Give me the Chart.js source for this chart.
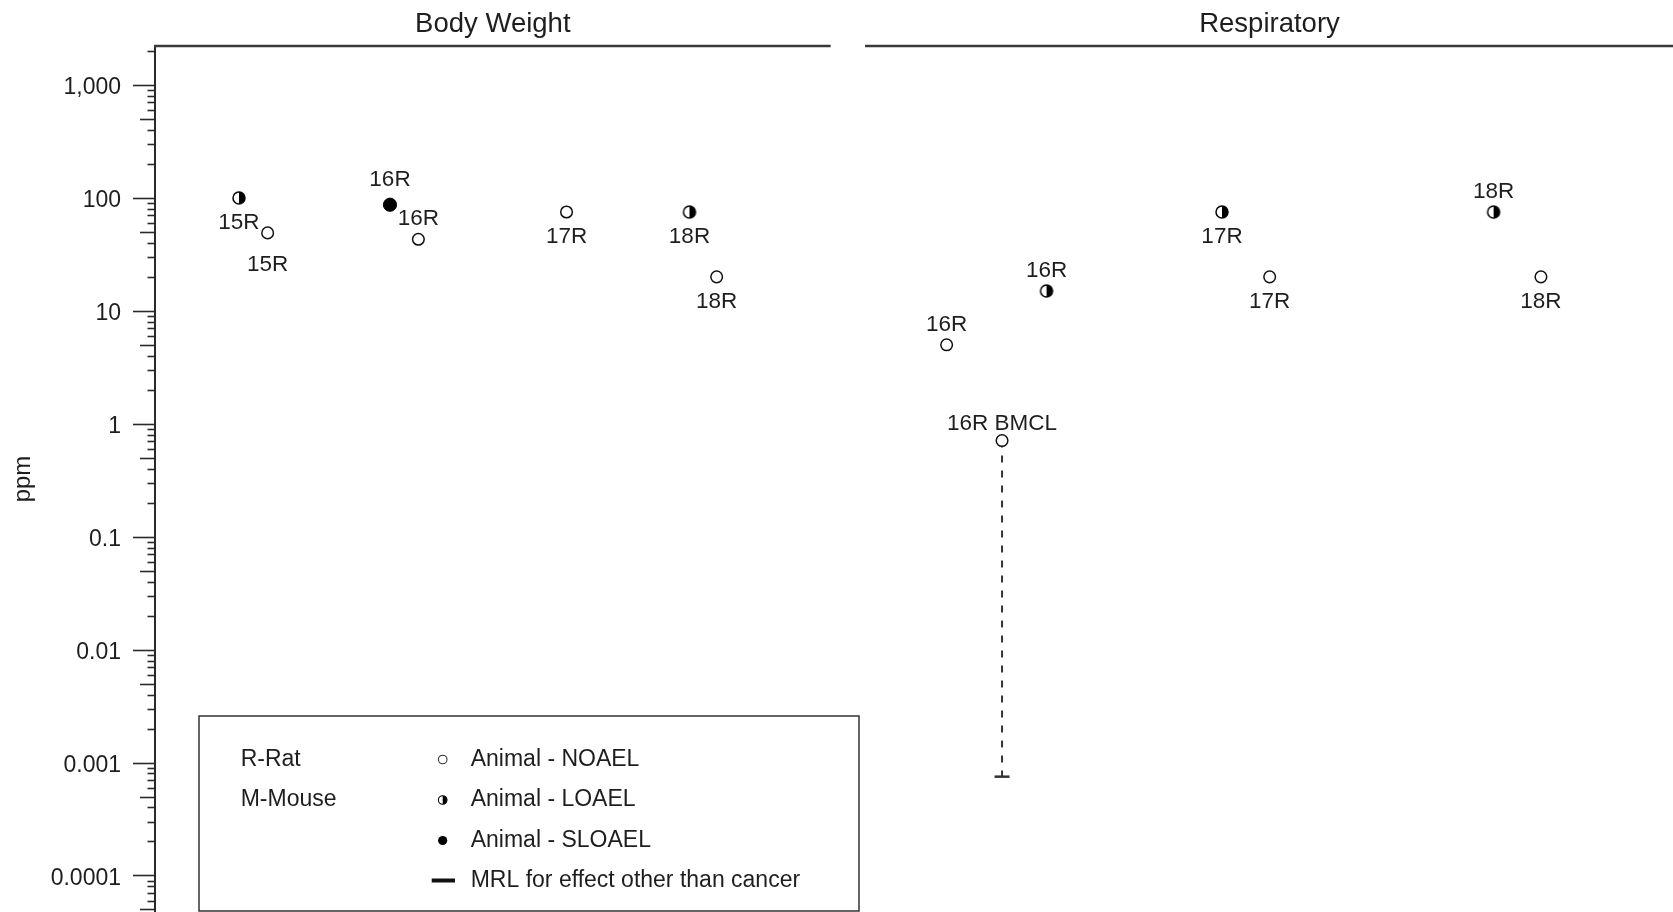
<!DOCTYPE html>
<html>
<head>
<meta charset="utf-8">
<script src="https://cdn.jsdelivr.net/npm/chart.js@4.4.1/dist/chart.umd.min.js"></script>
<style>
  html, body { margin: 0; padding: 0; background: #fff; }
  #wrap { width: 1673px; height: 912px; }
</style>
</head>
<body>
<div id="wrap"><canvas id="chart" width="1673" height="912"></canvas></div>
<script>
// Endpoint panels along the horizontal (plot-column) axis
const panelTitles = ['Body Weight', 'Respiratory'];
const panelStart = [0, 46.84];
const panelEnd = [44.51, 100];

// One entry per plotted study result
const pointLabels  = ['15R', '15R', '16R', '16R', '17R', '18R', '18R', '16R', '16R BMCL', '16R', '17R', '17R', '18R', '18R'];
const effectLevels = ['LOAEL', 'NOAEL', 'SLOAEL', 'NOAEL', 'NOAEL', 'LOAEL', 'NOAEL', 'NOAEL', 'BMCL', 'LOAEL', 'LOAEL', 'NOAEL', 'LOAEL', 'NOAEL'];
const doseValues   = [100, 49, 87, 43, 75, 75, 20, 5, 0.71, 15, 75, 20, 75, 20];
const plotColumns  = [5.53, 7.42, 15.48, 17.35, 27.11, 35.21, 37.0, 52.15, 55.8, 58.73, 70.29, 73.43, 88.18, 91.3];
const labelSides   = ['below', 'below', 'above', 'above', 'below', 'below', 'below', 'above', 'above', 'above', 'below', 'below', 'above', 'below'];

// Minimal risk level derived from the BMCL
const mrlValue = 0.00075;
const mrlColumn = 55.8;

// Labelled decades on the ppm axis
const decadeTicks  = [0.0001, 0.001, 0.01, 0.1, 1, 10, 100, 1000];
const decadeLabels = ['0.0001', '0.001', '0.01', '0.1', '1', '10', '100', '1,000'];

// Label spacing from each marker (px), kept apart from the data
const LABEL_GAP = { above: 20, below: 24.5 };
const labelGapOverride = { 1: 31.5, 2: 25.3, 8: 16.6 };

const FONT = '"Liberation Sans", Arial, Helvetica, sans-serif';
const INK = '#1e1e1e';
const AXIS_MIN = 4.75e-5;
const AXIS_MAX = 2213;

// 1..9 x 10^k tick values covering the axis range
function logTickValues() {
  const out = [];
  const k0 = Math.floor(Math.log10(AXIS_MIN));
  const k1 = Math.floor(Math.log10(AXIS_MAX));
  for (let k = k0; k <= k1; k++) {
    for (let m = 1; m <= 9; m++) {
      const v = +(m * Math.pow(10, k)).toPrecision(6);
      if (v >= AXIS_MIN && v <= AXIS_MAX) out.push({ value: v, mantissa: m });
    }
  }
  return out;
}

function drawHalfCircle(g, cx, cy, r, lw) {
  g.beginPath(); g.arc(cx, cy, r, 0, Math.PI * 2); g.fillStyle = '#fff'; g.fill();
  g.beginPath(); g.arc(cx, cy, r, -Math.PI / 2, Math.PI / 2); g.closePath(); g.fillStyle = '#000'; g.fill();
  g.beginPath(); g.arc(cx, cy, r, 0, Math.PI * 2); g.lineWidth = lw; g.strokeStyle = '#000'; g.stroke();
}

function makeHalfMarker(r, lw) {
  const size = Math.ceil(2 * r + 2 * lw) + 1;
  const cv = document.createElement('canvas');
  cv.width = size; cv.height = size;
  drawHalfCircle(cv.getContext('2d'), size / 2, size / 2, r, lw);
  return cv;
}

function pointsFor(levels) {
  return doseValues
    .map((v, i) => ({ x: plotColumns[i], y: v, idx: i, level: effectLevels[i] }))
    .filter(p => levels.includes(p.level));
}

const bmclIndex = effectLevels.indexOf('BMCL');

// Study labels above / below each marker
const pointLabelPlugin = {
  id: 'pointLabels',
  afterDatasetsDraw(chart) {
    const ctx = chart.ctx;
    ctx.save();
    ctx.font = '22.5px ' + FONT;
    ctx.fillStyle = INK;
    ctx.textAlign = 'center';
    ctx.textBaseline = 'middle';
    chart.data.datasets.forEach((ds, di) => {
      if (!ds.showPointLabels) return;
      const meta = chart.getDatasetMeta(di);
      meta.data.forEach((el, i) => {
        const k = ds.data[i].idx;
        const side = labelSides[k];
        const gap = labelGapOverride[k] !== undefined ? labelGapOverride[k] : LABEL_GAP[side];
        ctx.fillText(pointLabels[k], el.x, el.y + (side === 'above' ? -gap : gap));
      });
    });
    ctx.restore();
  }
};

// Log-axis tick marks: long at decades, medium at 5s, short elsewhere
const tickMarkPlugin = {
  id: 'tickMarks',
  afterDraw(chart) {
    const y = chart.scales.y;
    const ctx = chart.ctx;
    const x0 = chart.chartArea.left;
    ctx.save();
    ctx.strokeStyle = '#2a2a2a';
    ctx.lineWidth = 1.6;
    logTickValues().forEach(t => {
      const len = t.mantissa === 1 ? 22 : (t.mantissa === 5 ? 15 : 7.5);
      const py = Math.round(y.getPixelForValue(t.value)) + 0.5;
      ctx.beginPath();
      ctx.moveTo(x0 - len, py);
      ctx.lineTo(x0, py);
      ctx.stroke();
    });
    ctx.restore();
  }
};

// Panel headers with rule lines
const panelHeaderPlugin = {
  id: 'panelHeaders',
  afterDraw(chart) {
    const xs = chart.scales.x;
    const ctx = chart.ctx;
    const top = chart.chartArea.top;
    ctx.save();
    panelTitles.forEach((title, i) => {
      const a = xs.getPixelForValue(panelStart[i]);
      const b = xs.getPixelForValue(panelEnd[i]);
      ctx.strokeStyle = '#3a3a3a';
      ctx.lineWidth = 2.5;
      ctx.beginPath();
      ctx.moveTo(a - 1, top);
      ctx.lineTo(b, top);
      ctx.stroke();
      ctx.fillStyle = INK;
      ctx.font = '27.5px ' + FONT;
      ctx.textAlign = 'center';
      ctx.textBaseline = 'alphabetic';
      ctx.fillText(title, (a + b) / 2, 31.5);
    });
    ctx.restore();
  }
};

// Key box for species codes and marker meanings
const keyPlugin = {
  id: 'keyBox',
  afterDraw(chart) {
    const ctx = chart.ctx;
    ctx.save();
    ctx.fillStyle = '#fff';
    ctx.fillRect(199, 716, 660, 195);
    ctx.strokeStyle = '#333';
    ctx.lineWidth = 1.5;
    ctx.strokeRect(199, 716, 660, 195);

    ctx.font = '23px ' + FONT;
    ctx.fillStyle = INK;
    ctx.textAlign = 'left';
    ctx.textBaseline = 'middle';
    const rows = [759.5, 800, 840.5, 880.5];
    ctx.fillText('R-Rat', 240.7, rows[0]);
    ctx.fillText('M-Mouse', 240.7, rows[1]);
    ctx.fillText('Animal - NOAEL', 470.7, rows[0]);
    ctx.fillText('Animal - LOAEL', 470.7, rows[1]);
    ctx.fillText('Animal - SLOAEL', 470.7, rows[2]);
    ctx.fillText('MRL for effect other than cancer', 470.7, rows[3]);

    const mx = 442.7;
    ctx.beginPath(); ctx.arc(mx, rows[0], 4.3, 0, Math.PI * 2);
    ctx.fillStyle = '#fff'; ctx.fill(); ctx.lineWidth = 1.1; ctx.strokeStyle = '#333'; ctx.stroke();
    drawHalfCircle(ctx, mx, rows[1], 4.3, 1.1);
    ctx.beginPath(); ctx.arc(mx, rows[2], 4.6, 0, Math.PI * 2);
    ctx.fillStyle = '#000'; ctx.fill();
    ctx.strokeStyle = '#111'; ctx.lineWidth = 4;
    ctx.beginPath(); ctx.moveTo(431.7, rows[3]); ctx.lineTo(455, rows[3]); ctx.stroke();
    ctx.restore();
  }
};

const halfMarker = makeHalfMarker(6, 1.5);

new Chart(document.getElementById('chart'), {
  type: 'scatter',
  data: {
    datasets: [
      {
        type: 'line',
        data: [{ x: mrlColumn, y: doseValues[bmclIndex] }, { x: mrlColumn, y: mrlValue }],
        borderColor: '#333',
        borderWidth: 2,
        borderDash: [7, 8],
        pointRadius: 0,
        fill: false,
        order: 5
      },
      {
        data: [{ x: mrlColumn, y: mrlValue }],
        pointStyle: 'line',
        pointRadius: 7.5,
        borderWidth: 2.5,
        borderColor: '#333',
        order: 4
      },
      {
        data: pointsFor(['NOAEL', 'BMCL']),
        showPointLabels: true,
        pointStyle: 'circle',
        pointRadius: 5.8,
        borderWidth: 1.5,
        borderColor: '#111',
        backgroundColor: '#fff',
        order: 1
      },
      {
        data: pointsFor(['LOAEL']),
        showPointLabels: true,
        pointStyle: halfMarker,
        pointRadius: 6,
        order: 1
      },
      {
        data: pointsFor(['SLOAEL']),
        showPointLabels: true,
        pointStyle: 'circle',
        pointRadius: 6.6,
        borderWidth: 1,
        borderColor: '#000',
        backgroundColor: '#000',
        order: 1
      }
    ]
  },
  options: {
    responsive: false,
    animation: false,
    devicePixelRatio: 1,
    events: [],
    layout: { autoPadding: false, padding: { top: 46, left: 0, right: 0, bottom: 0 } },
    plugins: { legend: { display: false }, tooltip: { enabled: false } },
    scales: {
      x: { type: 'linear', min: 0, max: 100, display: false },
      y: {
        type: 'logarithmic',
        min: AXIS_MIN,
        max: AXIS_MAX,
        afterFit(scale) {
          scale.width = 155;
          scale.paddingTop = 0;
          scale.paddingBottom = 0;
        },
        afterBuildTicks(scale) {
          scale.ticks = decadeTicks
            .filter(v => v >= AXIS_MIN && v <= AXIS_MAX)
            .map(v => ({ value: v, major: true }));
        },
        grid: { display: false, drawTicks: true, tickLength: 34 },
        border: { display: true, color: '#2a2a2a', width: 2 },
        ticks: {
          autoSkip: false,
          padding: 0,
          labelOffset: 3,
          color: INK,
          font: { family: FONT, size: 23 },
          callback(value) {
            const i = decadeTicks.findIndex(d => Math.abs(d - value) / d < 1e-6);
            return i >= 0 ? decadeLabels[i] : null;
          }
        },
        title: {
          display: true,
          text: 'ppm',
          color: INK,
          font: { family: FONT, size: 24 },
          padding: { top: 9, bottom: 0 }
        }
      }
    }
  },
  plugins: [pointLabelPlugin, tickMarkPlugin, panelHeaderPlugin, keyPlugin]
});
</script>
</body>
</html>
